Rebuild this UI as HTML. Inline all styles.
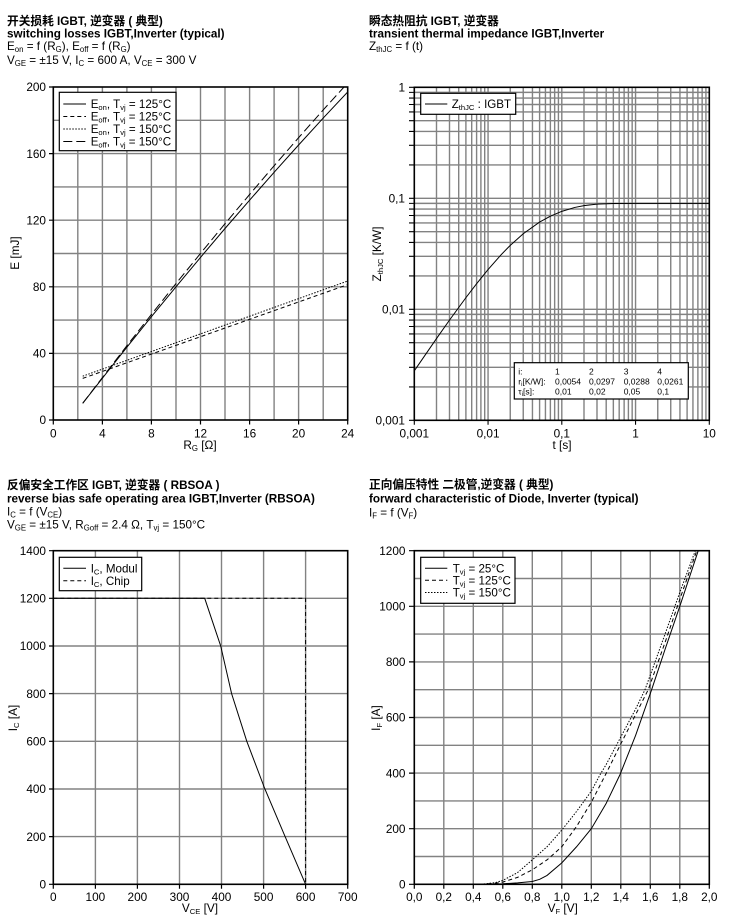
<!DOCTYPE html>
<html>
<head>
<meta charset="utf-8">
<style>
html,body{margin:0;padding:0;background:#fff;}
svg{display:block;}
</style>
</head>
<body>
<svg width="737" height="920" viewBox="0 0 737 920" xmlns="http://www.w3.org/2000/svg" font-family="'Liberation Sans','Noto Sans CJK SC',sans-serif" fill="#000">
<defs>
<clipPath id="c1"><rect x="53.3" y="87" width="294.4" height="333"/></clipPath>
<clipPath id="c4"><rect x="414.3" y="550.7" width="295" height="333.6"/></clipPath>
</defs>
<rect width="737" height="920" fill="#fff"/>

<!-- ================= HEADERS ================= -->
<g font-size="11.7">
<text x="7" y="25" font-weight="bold">开关损耗 IGBT, 逆变器 ( 典型)</text>
<text x="7" y="37.5" font-weight="bold">switching losses IGBT,Inverter (typical)</text>
<text x="7" y="50">E<tspan font-size="7.8" dy="2">on</tspan><tspan dy="-2"> = f (R</tspan><tspan font-size="7.8" dy="2">G</tspan><tspan dy="-2">), E</tspan><tspan font-size="7.8" dy="2">off</tspan><tspan dy="-2"> = f (R</tspan><tspan font-size="7.8" dy="2">G</tspan><tspan dy="-2">)</tspan></text>
<text x="7" y="64">V<tspan font-size="7.8" dy="2">GE</tspan><tspan dy="-2"> = ±15 V, I</tspan><tspan font-size="7.8" dy="2">C</tspan><tspan dy="-2"> = 600 A, V</tspan><tspan font-size="7.8" dy="2">CE</tspan><tspan dy="-2"> = 300 V</tspan></text>

<text x="369" y="25" font-weight="bold">瞬态热阻抗 IGBT, 逆变器</text>
<text x="369" y="37.5" font-weight="bold">transient thermal impedance IGBT,Inverter</text>
<text x="369" y="50">Z<tspan font-size="7.8" dy="2">thJC</tspan><tspan dy="-2"> = f (t)</tspan></text>

<text x="7" y="489" font-weight="bold">反偏安全工作区 IGBT, 逆变器 ( RBSOA )</text>
<text x="7" y="502.3" font-weight="bold">reverse bias safe operating area IGBT,Inverter (RBSOA)</text>
<text x="7" y="515.7">I<tspan font-size="7.8" dy="2">C</tspan><tspan dy="-2"> = f (V</tspan><tspan font-size="7.8" dy="2">CE</tspan><tspan dy="-2">)</tspan></text>
<text x="7" y="528.5">V<tspan font-size="7.8" dy="2">GE</tspan><tspan dy="-2"> = ±15 V, R</tspan><tspan font-size="7.8" dy="2">Goff</tspan><tspan dy="-2"> = 2.4 Ω, T</tspan><tspan font-size="7.8" dy="2">vj</tspan><tspan dy="-2"> = 150°C</tspan></text>

<text x="369" y="488.5" font-weight="bold">正向偏压特性 二极管,逆变器 ( 典型)</text>
<text x="369" y="502.3" font-weight="bold">forward characteristic of Diode, Inverter (typical)</text>
<text x="369" y="516.3">I<tspan font-size="7.8" dy="2">F</tspan><tspan dy="-2"> = f (V</tspan><tspan font-size="7.8" dy="2">F</tspan><tspan dy="-2">)</tspan></text>
</g>

<!-- ================= CHART 1 ================= -->
<path fill="none" stroke="#828282" stroke-width="1.4" d="M77.8 87V420M102.4 87V420M126.9 87V420M151.4 87V420M176 87V420M200.5 87V420M225 87V420M249.6 87V420M274.1 87V420M298.6 87V420M323.2 87V420M53.3 386.7H347.7M53.3 353.4H347.7M53.3 320.1H347.7M53.3 286.8H347.7M53.3 253.5H347.7M53.3 220.2H347.7M53.3 186.9H347.7M53.3 153.6H347.7M53.3 120.3H347.7"/>
<g clip-path="url(#c1)" fill="none" stroke="#000" stroke-width="1">
<path d="M82.7 403.35L102.4 378.2L126.9 347.2L151.4 316.7L176 286.8L200.5 257.4L225 228.5L249.6 200.2L274.1 172.3L298.6 145L323.2 118.1L347.7 92"/>
<path stroke-dasharray="9,4" d="M82.7 403.35L102.4 377.5L126.9 345.7L151.4 314.4L176 283.6L200.5 253.4L225 223.7L249.6 194.5L274.1 165.8L298.6 137.7L323.2 109.9L347.7 83"/>
<path stroke-dasharray="1.5,1.5" d="M82.7 376.2L347.7 281"/>
<path stroke-dasharray="4,3" d="M82.7 378.4L347.7 284.6"/>
</g>
<rect x="53.3" y="87" width="294.4" height="333" fill="none" stroke="#000" stroke-width="1.6"/>
<path stroke="#000" stroke-width="1.2" d="M49 420H53.3M49 353.4H53.3M49 286.8H53.3M49 220.2H53.3M49 153.6H53.3M49 87H53.3M53.3 420V424.5M102.4 420V424.5M151.4 420V424.5M200.5 420V424.5M249.6 420V424.5M298.6 420V424.5M347.7 420V424.5"/>
<g font-size="11.8" text-anchor="end">
<text x="46" y="424.2">0</text><text x="46" y="357.6">40</text><text x="46" y="291">80</text><text x="46" y="224.4">120</text><text x="46" y="157.8">160</text><text x="46" y="91.2">200</text>
</g>
<g font-size="11.8" text-anchor="middle">
<text x="53.3" y="437.5">0</text><text x="102.4" y="437.5">4</text><text x="151.4" y="437.5">8</text><text x="200.5" y="437.5">12</text><text x="249.6" y="437.5">16</text><text x="298.6" y="437.5">20</text><text x="347.7" y="437.5">24</text>
<text x="200" y="449">R<tspan font-size="7.8" dy="2">G</tspan><tspan dy="-2"> [Ω]</tspan></text>
<text transform="translate(19,253) rotate(-90)">E [mJ]</text>
</g>
<!-- legend 1 -->
<rect x="59.3" y="92.3" width="116.7" height="58.4" fill="#fff" stroke="#000" stroke-width="1.2"/>
<g fill="none" stroke="#000" stroke-width="1">
<path d="M63.3 104H86"/>
<path stroke-dasharray="4,3" d="M63.3 116.5H86"/>
<path stroke-dasharray="1.5,1.5" d="M63.3 129H86"/>
<path stroke-dasharray="9,4" d="M63.3 141.5H86"/>
</g>
<g font-size="11.6">
<text x="90.7" y="108.2">E<tspan font-size="7.6" dy="2">on</tspan><tspan dy="-2">, T</tspan><tspan font-size="7.6" dy="2">vj</tspan><tspan dy="-2"> = 125°C</tspan></text>
<text x="90.7" y="120.7">E<tspan font-size="7.6" dy="2">off</tspan><tspan dy="-2">, T</tspan><tspan font-size="7.6" dy="2">vj</tspan><tspan dy="-2"> = 125°C</tspan></text>
<text x="90.7" y="133.2">E<tspan font-size="7.6" dy="2">on</tspan><tspan dy="-2">, T</tspan><tspan font-size="7.6" dy="2">vj</tspan><tspan dy="-2"> = 150°C</tspan></text>
<text x="90.7" y="145.7">E<tspan font-size="7.6" dy="2">off</tspan><tspan dy="-2">, T</tspan><tspan font-size="7.6" dy="2">vj</tspan><tspan dy="-2"> = 150°C</tspan></text>
</g>

<!-- ================= CHART 2 ================= -->
<path fill="none" stroke="#828282" stroke-width="1.4" d="M436.5 87.3V420.3M449.5 87.3V420.3M458.7 87.3V420.3M465.9 87.3V420.3M471.7 87.3V420.3M476.6 87.3V420.3M480.9 87.3V420.3M484.7 87.3V420.3M488.05 87.3V420.3M510.25 87.3V420.3M523.24 87.3V420.3M532.45 87.3V420.3M539.6 87.3V420.3M545.44 87.3V420.3M550.38 87.3V420.3M554.65 87.3V420.3M558.42 87.3V420.3M561.8 87.3V420.3M584 87.3V420.3M596.99 87.3V420.3M606.2 87.3V420.3M613.35 87.3V420.3M619.19 87.3V420.3M624.13 87.3V420.3M628.4 87.3V420.3M632.17 87.3V420.3M635.55 87.3V420.3M657.75 87.3V420.3M670.74 87.3V420.3M679.95 87.3V420.3M687.1 87.3V420.3M692.94 87.3V420.3M697.88 87.3V420.3M702.15 87.3V420.3M705.92 87.3V420.3
M414.3 386.89H709.3M414.3 367.34H709.3M414.3 353.47H709.3M414.3 342.71H709.3M414.3 333.92H709.3M414.3 326.49H709.3M414.3 320.06H709.3M414.3 314.38H709.3M414.3 309.3H709.3M414.3 275.89H709.3M414.3 256.34H709.3M414.3 242.47H709.3M414.3 231.71H709.3M414.3 222.92H709.3M414.3 215.49H709.3M414.3 209.06H709.3M414.3 203.38H709.3M414.3 198.3H709.3M414.3 164.89H709.3M414.3 145.34H709.3M414.3 131.47H709.3M414.3 120.71H709.3M414.3 111.92H709.3M414.3 104.49H709.3M414.3 98.06H709.3M414.3 92.38H709.3"/>
<path fill="none" stroke="#000" stroke-width="1" d="M414.3 370.8L436.5 338.55L449.49 320.14L465.85 297.74L476.63 283.68L488.05 269.56L501.04 254.81L510.25 245.36L523.24 233.72L539.6 222.05L550.38 216.16L561.8 211.34L574.79 207.44L584 205.6L596.99 204.12L613.35 203.47L635.55 203.38L709.3 203.38"/>
<rect x="414.3" y="87.3" width="295" height="333" fill="none" stroke="#000" stroke-width="1.6"/>
<path stroke="#000" stroke-width="1.1" d="M409 420.3H414.3M409 386.89H414.3M409 367.34H414.3M409 353.47H414.3M409 342.71H414.3M409 333.92H414.3M409 326.49H414.3M409 320.06H414.3M409 314.38H414.3M409 309.3H414.3M409 275.89H414.3M409 256.34H414.3M409 242.47H414.3M409 231.71H414.3M409 222.92H414.3M409 215.49H414.3M409 209.06H414.3M409 203.38H414.3M409 198.3H414.3M409 164.89H414.3M409 145.34H414.3M409 131.47H414.3M409 120.71H414.3M409 111.92H414.3M409 104.49H414.3M409 98.06H414.3M409 92.38H414.3M409 87.3H414.3M414.3 420.3V424.8M488.05 420.3V424.8M561.8 420.3V424.8M635.55 420.3V424.8M709.3 420.3V424.8"/>
<g font-size="11.8" text-anchor="end">
<text x="405" y="91.5">1</text><text x="405" y="202.5">0,1</text><text x="405" y="313.5">0,01</text><text x="405" y="424.5">0,001</text>
</g>
<g font-size="11.8" text-anchor="middle">
<text x="414.3" y="437.5">0,001</text><text x="488.05" y="437.5">0,01</text><text x="561.8" y="437.5">0,1</text><text x="635.55" y="437.5">1</text><text x="709.3" y="437.5">10</text>
<text x="562" y="449">t [s]</text>
<text transform="translate(381,254) rotate(-90)">Z<tspan font-size="7.6" dy="2">thJC</tspan><tspan dy="-2"> [K/W]</tspan></text>
</g>
<rect x="420.7" y="93.3" width="95" height="21" fill="#fff" stroke="#000" stroke-width="1.2"/>
<path stroke="#000" stroke-width="1" d="M425 104H447.3"/>
<text x="451.7" y="108.2" font-size="11.6">Z<tspan font-size="7.6" dy="2">thJC</tspan><tspan dy="-2"> : IGBT</tspan></text>
<!-- table -->
<rect x="514.3" y="362.7" width="174" height="36.3" fill="#fff" stroke="#000" stroke-width="1.2"/>
<g font-size="8.5">
<text x="518.3" y="374.7">i:</text><text x="555" y="374.7">1</text><text x="589" y="374.7">2</text><text x="623.7" y="374.7">3</text><text x="657.3" y="374.7">4</text>
<text x="518.3" y="384.7">r<tspan font-size="6" dy="1.5">i</tspan><tspan dy="-1.5">[K/W]:</tspan></text><text x="555" y="384.7">0,0054</text><text x="589" y="384.7">0,0297</text><text x="623.7" y="384.7">0,0288</text><text x="657.3" y="384.7">0,0261</text>
<text x="518.3" y="394.7">τ<tspan font-size="6" dy="1.5">i</tspan><tspan dy="-1.5">[s]:</tspan></text><text x="555" y="394.7">0,01</text><text x="589" y="394.7">0,02</text><text x="623.7" y="394.7">0,05</text><text x="657.3" y="394.7">0,1</text>
</g>

<!-- ================= CHART 3 ================= -->
<path fill="none" stroke="#828282" stroke-width="1.4" d="M95.4 550.7V884.3M137.4 550.7V884.3M179.5 550.7V884.3M221.5 550.7V884.3M263.6 550.7V884.3M305.6 550.7V884.3M53.3 836.6H347.7M53.3 789H347.7M53.3 741.3H347.7M53.3 693.6H347.7M53.3 646H347.7M53.3 598.3H347.7"/>
<g fill="none" stroke="#000" stroke-width="1">
<path d="M53.3 598.3L204.7 598.3L220.7 646L231.6 693.6L246.8 741.3L264.9 789L285.1 836.6L305.6 884.3"/>
<path stroke-dasharray="4,3" d="M53.3 598.3H305.6V884.3"/>
</g>
<rect x="53.3" y="550.7" width="294.4" height="333.6" fill="none" stroke="#000" stroke-width="1.6"/>
<path stroke="#000" stroke-width="1.2" d="M49 884.3H53.3M49 836.6H53.3M49 789H53.3M49 741.3H53.3M49 693.6H53.3M49 646H53.3M49 598.3H53.3M49 550.7H53.3M53.3 884.3V888.8M95.4 884.3V888.8M137.4 884.3V888.8M179.5 884.3V888.8M221.5 884.3V888.8M263.6 884.3V888.8M305.6 884.3V888.8M347.7 884.3V888.8"/>
<g font-size="11.8" text-anchor="end">
<text x="46" y="888.5">0</text><text x="46" y="840.8">200</text><text x="46" y="793.2">400</text><text x="46" y="745.5">600</text><text x="46" y="697.8">800</text><text x="46" y="650.2">1000</text><text x="46" y="602.5">1200</text><text x="46" y="554.9">1400</text>
</g>
<g font-size="11.8" text-anchor="middle">
<text x="53.3" y="901">0</text><text x="95.4" y="901">100</text><text x="137.4" y="901">200</text><text x="179.5" y="901">300</text><text x="221.5" y="901">400</text><text x="263.6" y="901">500</text><text x="305.6" y="901">600</text><text x="347.7" y="901">700</text>
<text x="200" y="912">V<tspan font-size="7.6" dy="2">CE</tspan><tspan dy="-2">  [V]</tspan></text>
<text transform="translate(17,718) rotate(-90)">I<tspan font-size="7.6" dy="2">C</tspan><tspan dy="-2"> [A]</tspan></text>
</g>
<rect x="59.3" y="557.3" width="82.4" height="33.4" fill="#fff" stroke="#000" stroke-width="1.2"/>
<g fill="none" stroke="#000" stroke-width="1">
<path d="M63.3 568.3H86"/>
<path stroke-dasharray="4,3" d="M63.3 580.7H86"/>
</g>
<g font-size="11.6">
<text x="90.7" y="572.5">I<tspan font-size="7.6" dy="2">C</tspan><tspan dy="-2">, Modul</tspan></text>
<text x="90.7" y="584.9">I<tspan font-size="7.6" dy="2">C</tspan><tspan dy="-2">, Chip</tspan></text>
</g>

<!-- ================= CHART 4 ================= -->
<path fill="none" stroke="#828282" stroke-width="1.4" d="M443.8 550.7V884.3M473.3 550.7V884.3M502.8 550.7V884.3M532.3 550.7V884.3M561.8 550.7V884.3M591.3 550.7V884.3M620.8 550.7V884.3M650.3 550.7V884.3M679.8 550.7V884.3M414.3 856.5H709.3M414.3 828.7H709.3M414.3 800.9H709.3M414.3 773.1H709.3M414.3 745.3H709.3M414.3 717.5H709.3M414.3 689.7H709.3M414.3 661.9H709.3M414.3 634.1H709.3M414.3 606.3H709.3M414.3 578.5H709.3"/>
<g clip-path="url(#c4)" fill="none" stroke="#000" stroke-width="1">
<path d="M480.68 884.3L502.8 883.74L517.55 882.91L532.3 881.52L539.68 879.3L547.05 875.4L561.8 862.89L576.55 846.77L591.3 828.7L606.05 803.68L620.06 774.49L635.55 735.57L651.63 689.7L665.05 649.39L679.8 606.3L698.24 550.7"/>
<path stroke-dasharray="4,3" d="M480.68 884.3L495.43 883.19L502.8 882.08L517.55 877.35L532.3 869.84L547.05 859.84L561.8 846.77L576.55 826.48L591.3 802.29L606.05 773.66L620.8 743.91L635.55 714.72L648.24 689.7L665.05 642.44L679.8 599.35L696.76 550.7"/>
<path stroke-dasharray="1.5,1.5" d="M480.68 884.3L495.43 882.63L502.8 880.41L517.55 872.62L532.3 859.84L547.05 846.77L561.8 830.09L576.55 811.46L591.3 791.17L600.15 774.49L606.05 764.76L620.8 736.96L635.55 709.16L644.99 689.7L665.05 634.1L679.8 592.4L695.29 550.7"/>
</g>
<rect x="414.3" y="550.7" width="295" height="333.6" fill="none" stroke="#000" stroke-width="1.6"/>
<path stroke="#000" stroke-width="1.2" d="M409 884.3H414.3M409 828.7H414.3M409 773.1H414.3M409 717.5H414.3M409 661.9H414.3M409 606.3H414.3M409 550.7H414.3M414.3 884.3V888.8M443.8 884.3V888.8M473.3 884.3V888.8M502.8 884.3V888.8M532.3 884.3V888.8M561.8 884.3V888.8M591.3 884.3V888.8M620.8 884.3V888.8M650.3 884.3V888.8M679.8 884.3V888.8M709.3 884.3V888.8"/>
<g font-size="11.8" text-anchor="end">
<text x="405.5" y="888.5">0</text><text x="405.5" y="832.9">200</text><text x="405.5" y="777.3">400</text><text x="405.5" y="721.7">600</text><text x="405.5" y="666.1">800</text><text x="405.5" y="610.5">1000</text><text x="405.5" y="554.9">1200</text>
</g>
<g font-size="11.8" text-anchor="middle">
<text x="414.3" y="901">0,0</text><text x="443.8" y="901">0,2</text><text x="473.3" y="901">0,4</text><text x="502.8" y="901">0,6</text><text x="532.3" y="901">0,8</text><text x="561.8" y="901">1,0</text><text x="591.3" y="901">1,2</text><text x="620.8" y="901">1,4</text><text x="650.3" y="901">1,6</text><text x="679.8" y="901">1,8</text><text x="709.3" y="901">2,0</text>
<text x="562.7" y="912">V<tspan font-size="7.6" dy="2">F</tspan><tspan dy="-2"> [V]</tspan></text>
<text transform="translate(380,718) rotate(-90)">I<tspan font-size="7.6" dy="2">F</tspan><tspan dy="-2"> [A]</tspan></text>
</g>
<rect x="420.7" y="557.3" width="94.3" height="46" fill="#fff" stroke="#000" stroke-width="1.2"/>
<g fill="none" stroke="#000" stroke-width="1">
<path d="M425 568.3H447.3"/>
<path stroke-dasharray="4,3" d="M425 580.3H447.3"/>
<path stroke-dasharray="1.5,1.5" d="M425 592.5H447.3"/>
</g>
<g font-size="11.6">
<text x="452.7" y="572.5">T<tspan font-size="7.6" dy="2">vj</tspan><tspan dy="-2"> = 25°C</tspan></text>
<text x="452.7" y="584.5">T<tspan font-size="7.6" dy="2">vj</tspan><tspan dy="-2"> = 125°C</tspan></text>
<text x="452.7" y="596.7">T<tspan font-size="7.6" dy="2">vj</tspan><tspan dy="-2"> = 150°C</tspan></text>
</g>
</svg>
</body>
</html>
